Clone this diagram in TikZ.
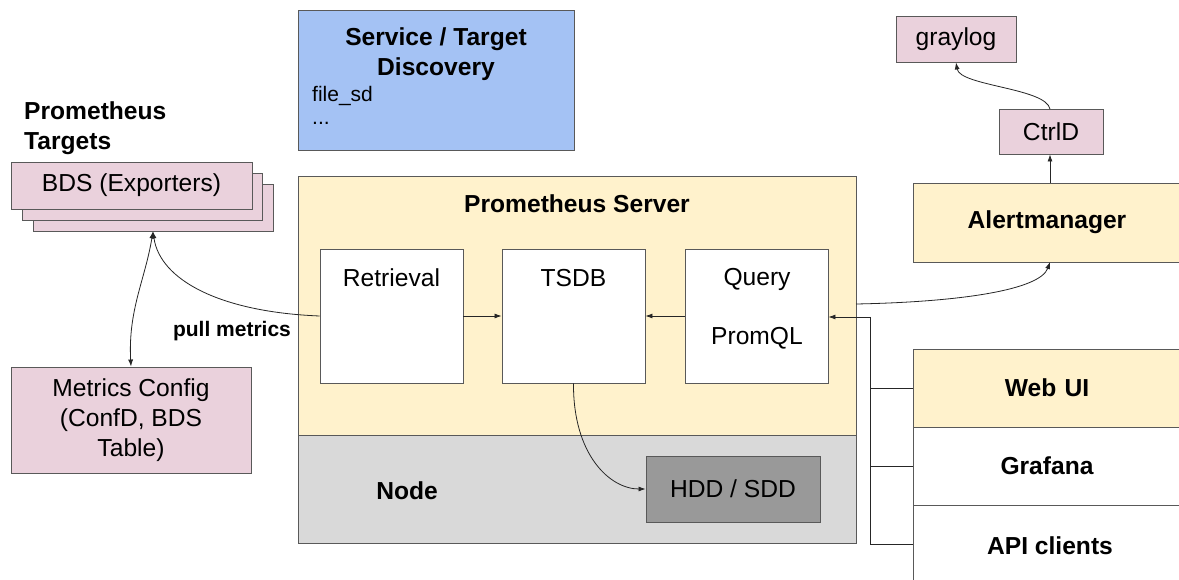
\documentclass[tikz,border=0pt]{standalone}
\usepackage{fontspec}
\setmainfont{Liberation Sans}
\usetikzlibrary{arrows.meta}
\definecolor{cyel}{HTML}{FFF2CC}
\definecolor{cpink}{HTML}{EAD1DC}
\definecolor{cblue}{HTML}{A4C2F4}
\definecolor{cgray}{HTML}{D9D9D9}
\definecolor{cdark}{HTML}{999999}
\definecolor{cline}{HTML}{595959}
\begin{document}
\begin{tikzpicture}[x=1pt,y=-1pt,
  box/.style={draw=cline,line width=0.9pt,rectangle,inner sep=0pt,align=center,
    font=\fontsize{24.6}{30}\selectfont},
  lbl/.style={inner sep=0pt,align=center,font=\fontsize{24.6}{30}\selectfont},
  blbl/.style={inner sep=0pt,align=center,font=\fontsize{24.6}{30}\selectfont\bfseries},
  conn/.style={draw=black!85,line width=0.8pt},
  arr/.style={conn,-{Latex[length=7pt,width=5pt]}},
  darr/.style={conn,{Latex[length=7pt,width=5pt]}-{Latex[length=7pt,width=5pt]}}
]
\useasboundingbox (0,0) rectangle (1179,580);
\fill[white] (0,0) rectangle (1179,580);

% Service discovery
\node[box,fill=cblue,minimum width=276pt,minimum height=140pt] (disc) at (436,80) {};
\node[blbl] (discT) at (436,54) {Service / Target\\Discovery};
\node[lbl,anchor=west,font=\fontsize{21}{26}\selectfont] (fsd) at (312,96) {file\_sd};
\node[lbl,anchor=west,font=\fontsize{21}{26}\selectfont] (dots) at (312,123) {...};

% Prometheus targets
\node[blbl,anchor=west,align=left] (tgtlbl) at (24,128) {Prometheus\\Targets};
\node[box,fill=cpink,minimum width=240pt,minimum height=47pt] (bds3) at (153,207.5) {};
\node[box,fill=cpink,minimum width=240pt,minimum height=47pt] (bds2) at (142,196.5) {};
\node[box,fill=cpink,minimum width=241pt,minimum height=47pt] (bds1) at (131.5,185.5) {BDS (Exporters)};
\node[box,fill=cpink,minimum width=240pt,minimum height=106pt] (metrics) at (131,420) {Metrics Config\\(ConfD, BDS\\Table)};

% Prometheus server and node
\node[box,fill=cyel,minimum width=558pt,minimum height=259pt] (server) at (577,305.5) {};
\node[box,fill=cgray,minimum width=558pt,minimum height=108pt] (nodebox) at (577,489) {};
\node[blbl] (serverT) at (577,204) {Prometheus Server};
\node[blbl] (nodeT) at (407,491) {Node};
\node[box,fill=white,minimum width=143pt,minimum height=134pt] (retr) at (391.5,316) {};
\node[box,fill=white,minimum width=143pt,minimum height=134pt] (tsdb) at (573.5,316) {};
\node[box,fill=white,minimum width=143pt,minimum height=134pt] (query) at (756.5,316) {};
\node[lbl] (retrT) at (391.5,278) {Retrieval};
\node[lbl] (tsdbT) at (573.5,278) {TSDB};
\node[lbl] (queryT) at (757,279) {Query};
\node[lbl] (promqlT) at (757,338) {PromQL};
\node[box,fill=cdark,minimum width=174pt,minimum height=66pt] (hdd) at (733,489) {HDD / SDD};

% Right side
\node[box,fill=cyel,minimum width=272pt,minimum height=79pt,text width=272pt] (alert) at (1049,222.5) {\hspace*{-4pt}\bfseries Alertmanager};
\node[box,fill=cpink,minimum width=104pt,minimum height=45pt] (ctrld) at (1051,131.5) {CtrlD};
\node[box,fill=cpink,minimum width=120pt,minimum height=46pt] (graylog) at (956,39) {graylog};
\node[box,fill=cyel,minimum width=272pt,minimum height=78pt,text width=272pt] (webui) at (1049,388) {\hspace*{-4pt}\bfseries Web UI};
\node[box,fill=white,minimum width=272pt,minimum height=78pt,text width=272pt] (grafana) at (1049,466) {\hspace*{-4pt}\bfseries Grafana};
\node[box,fill=white,minimum width=272pt,minimum height=90pt,text width=272pt] (api) at (1049,550) {};
\node[blbl] (apiT) at (1050,546) {API clients};

% Connectors
\draw[arr] (retr.east) -- (tsdb.west);
\draw[arr] (query.west) -- (tsdb.east);
\coordinate (busT) at (870,317);
\coordinate (busW) at (870,388);
\coordinate (busG) at (870,466);
\coordinate (busA) at (870,544);
\draw[arr] (busT) -- (query.east |- busT);
\draw[conn] (busT) -- (busA);
\draw[conn] (busW) -- (webui.west);
\draw[conn] (busG) -- (grafana.west);
\draw[conn] (busA) -- (busA -| api.west);

\coordinate (srvOut) at (856,304);
\coordinate (alIn) at (1050,262);
\draw[arr] (srvOut) .. controls (960,302) and (1040,290) .. (alIn);
\coordinate (alTop) at (1050,183);
\draw[arr] (alTop) -- (ctrld.south -| alTop);
\coordinate (ctTop) at (1050,109);
\draw[arr] (ctTop) .. controls (1046,88) and (960,86) .. (graylog.south);

\draw[arr] (tsdb.south) .. controls (573,455) and (610,489) .. (hdd.west);

\draw[arr] (retr.west) .. controls (220,312) and (160,280) .. (bds3.south);
\draw[darr] (bds3.south) .. controls (145,280) and (128,310) .. (metrics.north);
\node[blbl,font=\fontsize{21}{25}\selectfont\bfseries] (pull) at (232,331) {pull metrics};
\end{tikzpicture}
\end{document}
